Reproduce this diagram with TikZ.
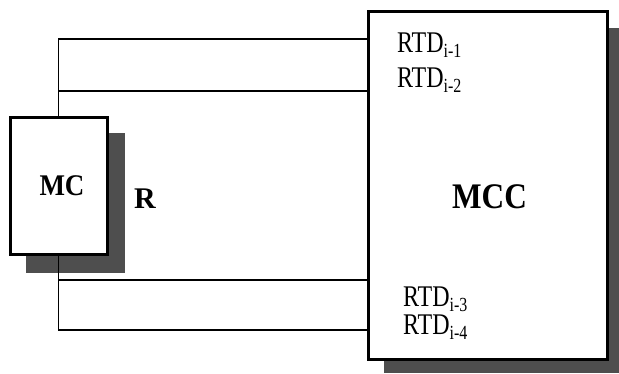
\documentclass[tikz,border=0pt]{standalone}
\usepackage{fontspec}
\setmainfont{Liberation Serif}
\definecolor{shadowgray}{RGB}{78,78,78}
\newcommand{\rtdsub}[1]{\raisebox{-5pt}{\fontsize{20}{20}\selectfont #1}}
\tikzset{
  box/.style={draw=black, line width=3pt, fill=white, inner sep=0pt},
  shade/.style={fill=shadowgray, draw=none},
  wire/.style={draw=black, line width=1.4pt},
  rtd/.style={anchor=base west, inner sep=0pt, font=\fontsize{30}{30}\selectfont, xscale=0.8, transform shape},
  bigbold/.style={inner sep=0pt, font=\bfseries\fontsize{30}{30}\selectfont}
}
\begin{document}
\begin{tikzpicture}[x=1pt,y=-1pt]
\useasboundingbox (0,0) rectangle (619,373);
% shadows
\fill[shade] (26,133) rectangle (125,273);
\fill[shade] (384,28) rectangle (619,373);
% boxes
\node[box, minimum width=97pt, minimum height=137pt] (mc) at (58.5,185.5) {};
\node[box, minimum width=239pt, minimum height=348pt] (mcc) at (487.5,185) {};
% wires
\draw[wire] (mc.north) |- (mcc.west |- 0,39);
\draw[wire] (mc.north |- 0,91) -- (mcc.west |- 0,91);
\draw[wire] (mc.south) |- (mcc.west |- 0,330);
\draw[wire] (mc.south |- 0,280) -- (mcc.west |- 0,280);
% labels
\node[bigbold, anchor=base, xscale=0.9, transform shape] (mclabel) at (62,195) {MC};
\node[bigbold, anchor=base] (rlabel) at (145,208) {R};
\node[inner sep=0pt, anchor=base, font=\bfseries\fontsize{36}{36}\selectfont, xscale=0.87, transform shape] (mcclabel) at (489.5,208) {MCC};
\node[rtd] (r1) at (397,52) {RTD\rtdsub{i-1}};
\node[rtd] (r2) at (397,87) {RTD\rtdsub{i-2}};
\node[rtd] (r3) at (403,306) {RTD\rtdsub{i-3}};
\node[rtd] (r4) at (403,334) {RTD\rtdsub{i-4}};
\end{tikzpicture}
\end{document}
